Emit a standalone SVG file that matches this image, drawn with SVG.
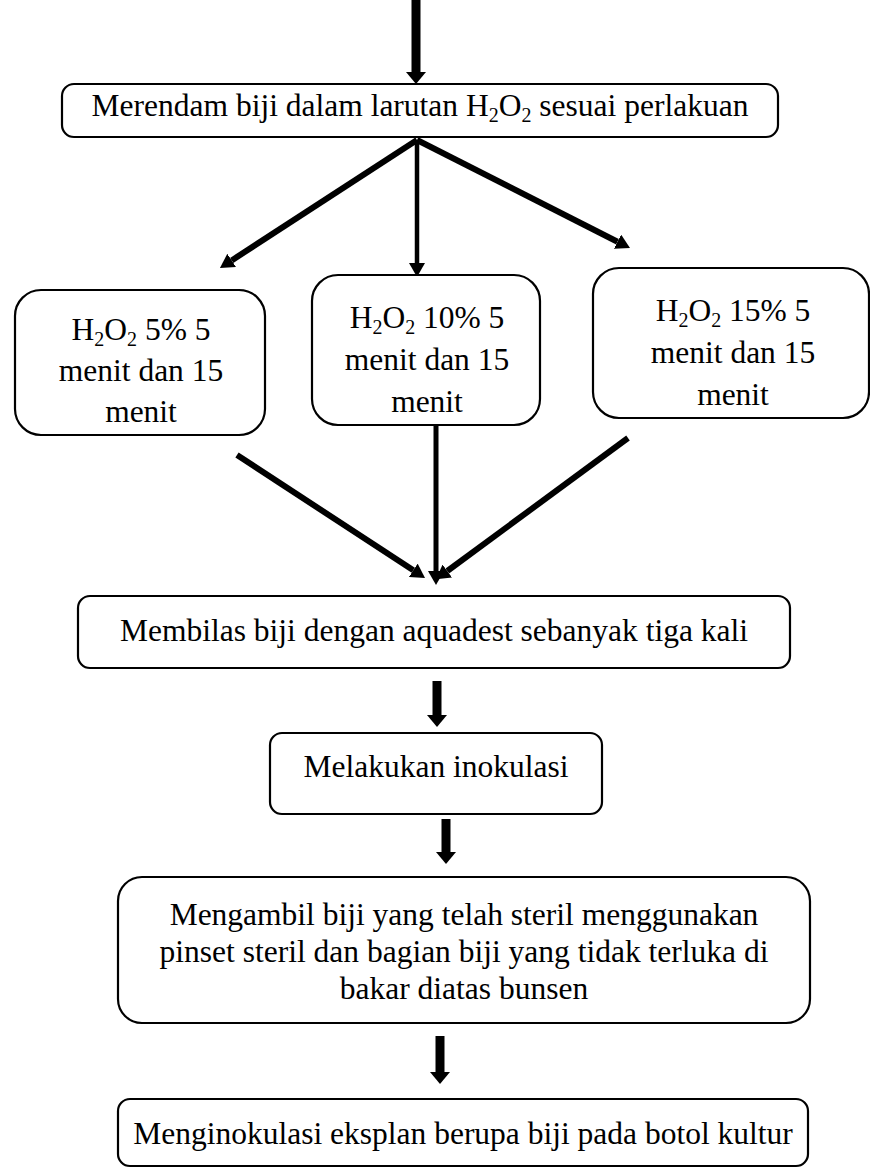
<svg xmlns="http://www.w3.org/2000/svg" width="870" height="1168" viewBox="0 0 870 1168">
<defs>
<style>
.box{fill:#fff;stroke:#000;stroke-width:2.2}
.t{font-family:"Liberation Serif","Times New Roman",serif;font-size:31.5px;fill:#000;text-anchor:middle}
.sub{font-size:20px}
.c{stroke:#000;fill:none}
</style>
<marker id="ah" markerUnits="userSpaceOnUse" viewBox="0 -8 14 16" refX="0" refY="0" markerWidth="14" markerHeight="16" orient="auto">
<path d="M0,-8 L14,0 L0,8 z" fill="#000"/>
</marker>
<marker id="big" markerUnits="userSpaceOnUse" viewBox="0 -10 12 20" refX="0" refY="0" markerWidth="12" markerHeight="20" orient="auto">
<path d="M0,-10 L12,0 L0,10 z" fill="#000"/>
</marker>
</defs>
<g id="connectors">
<line class="c" x1="416" y1="0" x2="416" y2="72" stroke-width="9" marker-end="url(#big)"/>
<line class="c" x1="417" y1="140" x2="231.7" y2="260.4" stroke-width="6" marker-end="url(#ah)"/>
<line class="c" x1="417" y1="140" x2="417" y2="263" stroke-width="4.5" marker-end="url(#ah)"/>
<line class="c" x1="417" y1="140" x2="617.5" y2="241.7" stroke-width="6" marker-end="url(#ah)"/>
<line class="c" x1="237" y1="455" x2="413.3" y2="570.3" stroke-width="6" marker-end="url(#ah)"/>
<line class="c" x1="436" y1="425" x2="436" y2="571" stroke-width="5" marker-end="url(#ah)"/>
<line class="c" x1="628" y1="438" x2="447.3" y2="571" stroke-width="6" marker-end="url(#ah)"/>
<line class="c" x1="437" y1="681" x2="437" y2="715" stroke-width="9" marker-end="url(#big)"/>
<line class="c" x1="446" y1="819" x2="446" y2="852" stroke-width="9" marker-end="url(#big)"/>
<line class="c" x1="440" y1="1036" x2="440" y2="1072" stroke-width="9" marker-end="url(#big)"/>
</g>
<g id="n1">
<rect class="box" x="62" y="84" width="716" height="53" rx="12"/>
<text class="t" x="420" y="116">Merendam biji dalam larutan H<tspan class="sub" dy="6">2</tspan><tspan dy="-6">O</tspan><tspan class="sub" dy="6">2</tspan><tspan dy="-6"> sesuai perlakuan</tspan></text>
</g>
<g id="n2">
<rect class="box" x="15" y="290" width="250" height="145" rx="26"/>
<text class="t" x="141" y="340">H<tspan class="sub" dy="6">2</tspan><tspan dy="-6">O</tspan><tspan class="sub" dy="6">2</tspan><tspan dy="-6"> 5% 5</tspan></text>
<text class="t" x="141" y="381">menit dan 15</text>
<text class="t" x="141" y="422">menit</text>
</g>
<g id="n3">
<rect class="box" x="312" y="275" width="228" height="150" rx="26"/>
<text class="t" x="427" y="328">H<tspan class="sub" dy="6">2</tspan><tspan dy="-6">O</tspan><tspan class="sub" dy="6">2</tspan><tspan dy="-6"> 10% 5</tspan></text>
<text class="t" x="427" y="370">menit dan 15</text>
<text class="t" x="427" y="412">menit</text>
</g>
<g id="n4">
<rect class="box" x="593" y="268" width="276" height="150" rx="26"/>
<text class="t" x="733" y="321">H<tspan class="sub" dy="6">2</tspan><tspan dy="-6">O</tspan><tspan class="sub" dy="6">2</tspan><tspan dy="-6"> 15% 5</tspan></text>
<text class="t" x="733" y="363">menit dan 15</text>
<text class="t" x="733" y="405">menit</text>
</g>
<g id="n5">
<rect class="box" x="78" y="596" width="712" height="72" rx="12"/>
<text class="t" x="434" y="641">Membilas biji dengan aquadest sebanyak tiga kali</text>
</g>
<g id="n6">
<rect class="box" x="270" y="733" width="332" height="81" rx="12"/>
<text class="t" x="436" y="777">Melakukan inokulasi</text>
</g>
<g id="n7">
<rect class="box" x="118" y="877" width="692" height="146" rx="24"/>
<text class="t" x="464" y="925">Mengambil biji yang telah steril menggunakan</text>
<text class="t" x="464" y="962">pinset steril dan bagian biji yang tidak terluka di</text>
<text class="t" x="464" y="999">bakar diatas bunsen</text>
</g>
<g id="n8">
<rect class="box" x="118" y="1099" width="690" height="67" rx="12"/>
<text class="t" x="463" y="1144">Menginokulasi eksplan berupa biji pada botol kultur</text>
</g>
</svg>
